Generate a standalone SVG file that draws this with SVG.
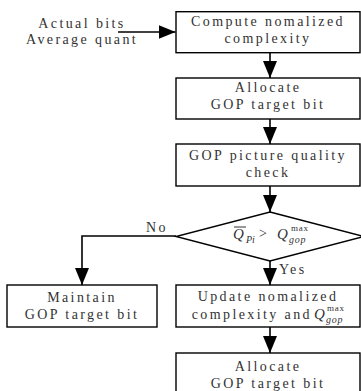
<svg xmlns="http://www.w3.org/2000/svg" width="361" height="391" viewBox="0 0 361 391">
<defs>
<style>
.box{fill:#fff;stroke:#000;stroke-width:1.4}
.t{font-family:'Liberation Serif','DejaVu Serif',serif;font-size:14px;letter-spacing:2.4px;fill:#333;text-anchor:middle}
.m{font-family:'Liberation Serif','DejaVu Serif',serif;fill:#333}
.c{fill:none;stroke:#000;stroke-width:1.6}
</style>
<marker id="ah" markerUnits="userSpaceOnUse" markerWidth="18" markerHeight="14" refX="17" refY="7" orient="auto">
<path d="M0,0 L17,7 L0,14 Z" fill="#000"/>
</marker>
</defs>
<rect width="361" height="391" fill="#fff"/>
<g id="connectors">
<line class="c" x1="118" y1="32" x2="175.5" y2="32" marker-end="url(#ah)"/>
<line class="c" x1="270" y1="52.7" x2="270" y2="78" marker-end="url(#ah)"/>
<line class="c" x1="270" y1="119" x2="270" y2="144" marker-end="url(#ah)"/>
<line class="c" x1="270" y1="186" x2="270" y2="212" marker-end="url(#ah)"/>
<line class="c" x1="270" y1="261" x2="270" y2="285" marker-end="url(#ah)"/>
<line class="c" x1="270" y1="327" x2="270" y2="353" marker-end="url(#ah)"/>
<polyline class="c" points="176,236 82,236 82,285" marker-end="url(#ah)"/>
<text class="t" x="157" y="232" font-family="Liberation Serif, serif">No</text>
<text class="t" x="279" y="274" style="text-anchor:start" font-family="Liberation Serif, serif">Yes</text>
</g>
<g id="input">
<text class="t" x="82" y="28" font-family="Liberation Serif, serif">Actual bits</text>
<text class="t" x="82" y="44" font-family="Liberation Serif, serif">Average quant</text>
</g>
<g id="n1">
<rect class="box" x="176" y="11.7" width="184" height="41"/>
<text class="t" x="268" y="26" font-family="Liberation Serif, serif">Compute nomalized</text>
<text class="t" x="268" y="43" font-family="Liberation Serif, serif">complexity</text>
</g>
<g id="n2">
<rect class="box" x="176" y="78" width="184" height="41"/>
<text class="t" x="268" y="92" font-family="Liberation Serif, serif">Allocate</text>
<text class="t" x="268" y="109" font-family="Liberation Serif, serif">GOP target bit</text>
</g>
<g id="n3">
<rect class="box" x="176" y="144" width="184" height="42"/>
<text class="t" x="268" y="160" font-family="Liberation Serif, serif">GOP picture quality</text>
<text class="t" x="268" y="177" font-family="Liberation Serif, serif">check</text>
</g>
<g id="decision">
<polygon class="box" points="270,212 364,236.5 270,261 176,236.5"/>
<line x1="234" y1="227" x2="246" y2="227" stroke="#333" stroke-width="1"/>
<text class="m" x="233" y="239" font-size="15" font-style="italic" font-family="Liberation Serif, serif">Q</text>
<text class="m" x="246" y="243" font-size="10" font-style="italic" font-family="Liberation Serif, serif">Pi</text>
<text class="m" x="259" y="238" font-size="14" font-family="Liberation Serif, serif">&gt;</text>
<text class="m" x="277" y="239" font-size="15" font-style="italic" font-family="Liberation Serif, serif">Q</text>
<text class="m" x="291" y="231" font-size="9" letter-spacing="0.8" font-family="Liberation Serif, serif">max</text>
<text class="m" x="289" y="243" font-size="10" font-style="italic" letter-spacing="0.8" font-family="Liberation Serif, serif">gop</text>
</g>
<g id="n4">
<rect class="box" x="7" y="285" width="150" height="42"/>
<text class="t" x="82" y="302" font-family="Liberation Serif, serif">Maintain</text>
<text class="t" x="82" y="319" font-family="Liberation Serif, serif">GOP target bit</text>
</g>
<g id="n5">
<rect class="box" x="176" y="285" width="184" height="42"/>
<text class="t" x="268" y="301" font-family="Liberation Serif, serif">Update nomalized</text>
<text class="t" x="312" y="319" style="text-anchor:end" font-family="Liberation Serif, serif">complexity and</text>
<text class="m" x="314" y="319" font-size="15" font-style="italic" font-family="Liberation Serif, serif">Q</text>
<text class="m" x="327" y="311" font-size="9" letter-spacing="0.8" font-family="Liberation Serif, serif">max</text>
<text class="m" x="326" y="323" font-size="10" font-style="italic" letter-spacing="0.8" font-family="Liberation Serif, serif">gop</text>
</g>
<g id="n6">
<rect class="box" x="176" y="353" width="184" height="45"/>
<text class="t" x="268" y="371" font-family="Liberation Serif, serif">Allocate</text>
<text class="t" x="268" y="388" font-family="Liberation Serif, serif">GOP target bit</text>
</g>
</svg>
